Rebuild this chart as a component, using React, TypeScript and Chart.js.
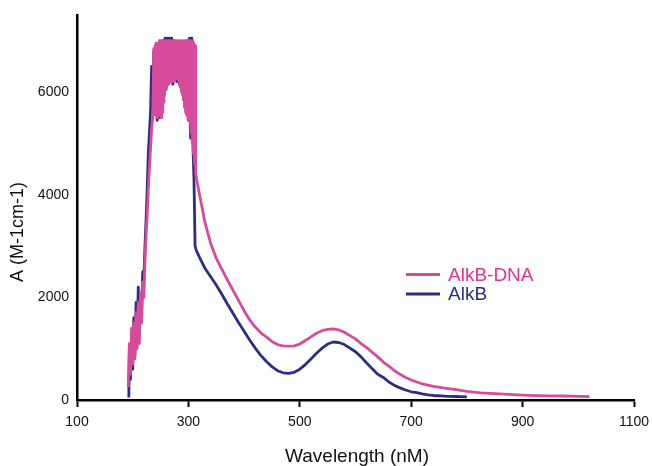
import { useEffect, useRef } from "react";
import { Chart, registerables } from "chart.js";

Chart.register(...registerables);

const seriesLabels = ["AlkB-DNA", "AlkB"];
const xTitle = "Wavelength (nM)";
const yTitle = "A (M-1cm-1)";
const xTicks = [100, 300, 500, 700, 900, 1100];
const yTicks = [0, 2000, 4000, 6000];

const alkbDnaWavelengths = [
  192, 194, 196, 198, 200, 202, 204, 206, 208, 210, 212, 214, 216, 218, 220, 222,
  224, 226, 228, 230, 232, 234, 236,
  238, 239, 240, 241, 242, 243, 244, 245, 246, 247, 248, 249, 250, 251, 252, 253,
  254, 255, 256, 257, 258, 259, 260, 261, 262, 263, 264, 265, 266, 267, 268, 269,
  270, 271, 272, 273, 274, 275, 276, 277, 278, 279, 280, 281, 282, 283, 284, 285,
  286, 287, 288, 289, 290, 291, 292, 293, 294, 295, 296, 297, 298, 299, 300, 301,
  302, 303, 304, 305, 306, 307, 308, 309, 310, 311, 312, 313, 314,
  320, 330, 340, 350, 360, 370, 380, 390, 400, 410, 420, 430, 440, 450, 460, 470,
  480, 490, 500, 510, 520, 530, 540, 550, 560, 570, 580, 590, 600, 610, 620, 630,
  640, 650, 660, 670, 680, 690, 700, 710, 720, 730, 740, 760, 780, 800, 825, 850,
  875, 900, 925, 950, 975, 1000, 1020,
];
const alkbDnaValues = [
  250, 1100, 500, 1400, 700, 1500, 800, 1700, 1000, 1900, 1100, 2100, 1500, 2300, 2000, 2700,
  3200, 3600, 4100, 4500, 4900, 5300, 5500,
  6850, 5600, 6900, 5550, 6950, 5500, 6900, 5500, 6950, 5550, 7000, 5550, 6950, 5500, 7000, 5600,
  6950, 5800, 7000, 5950, 6950, 6050, 7000, 6100, 6950, 6150, 7000, 6200, 6950, 6250, 7000, 6200,
  6950, 6250, 7000, 6300, 6950, 6200, 7000, 6250, 6950, 6300, 7000, 6250, 6950, 6200, 7000, 6100,
  6950, 6050, 7000, 5950, 6950, 5850, 7000, 5700, 6950, 5600, 7000, 5550, 6950, 5500, 7000, 5450,
  6950, 5400, 7000, 5200, 6950, 5000, 7000, 4800, 6950, 4600, 6900, 4400, 4350,
  4000, 3450, 3050, 2760, 2550, 2340, 2140, 1940, 1740, 1560, 1420, 1310, 1230, 1140, 1080, 1055,
  1050, 1055, 1090, 1160, 1230, 1300, 1350, 1375, 1385, 1365, 1320, 1255, 1190, 1100, 1020, 930,
  840, 740, 660, 570, 500, 440, 390, 350, 315, 290, 265, 230, 200, 170, 140, 125,
  110, 95, 85, 80, 78, 70, 65,
];

const alkbWavelengths = [
  193, 194, 196, 198, 200, 202, 204, 206, 208, 210, 212, 214, 216, 218, 220, 222,
  224, 226, 228, 230, 232, 234, 236, 238, 240, 242, 244, 246, 248, 250, 252, 254,
  256, 258, 260, 262, 264, 266, 268, 270, 272, 274, 276, 278, 280, 282, 284, 286,
  288, 290, 292, 294, 296, 298, 300, 302, 304, 306, 308, 310, 312, 314,
  320, 330, 340, 350, 360, 370, 380, 390, 400, 410, 420, 430, 440, 450, 460, 470,
  480, 490, 500, 510, 520, 530, 540, 550, 560, 570, 580, 590, 600, 610, 620, 630,
  640, 650, 660, 670, 680, 690, 700, 710, 720, 730, 740, 760, 780, 800,
];
const alkbValues = [
  50, 900, 400, 1300, 600, 1600, 900, 1900, 1200, 2200, 1300, 2000, 1700, 2500, 2300, 3000,
  3500, 4100, 4800, 5200, 5600, 6500, 5900, 6800, 5800, 6900, 5450, 6900, 5500, 6900, 5650, 7000,
  5900, 7050, 6050, 7050, 6150, 7050, 6200, 7050, 6150, 7000, 6250, 6900, 6200, 6900, 6150, 6900,
  6000, 6900, 5850, 6950, 5650, 7000, 5450, 7050, 5100, 7050, 5000, 4300, 3000, 2920,
  2780, 2560, 2400, 2240, 2060, 1870, 1690, 1510, 1340, 1170, 1010, 870, 750, 650, 570, 530,
  520, 540, 600, 690, 800, 910, 1010, 1090, 1130, 1120, 1080, 1010, 940, 840, 720, 610,
  500, 440, 350, 285, 235, 195, 160, 145, 120, 100, 88, 75, 68, 62,
];

const FONT = '"Liberation Sans", Arial, Helvetica, sans-serif';
const PINK = "#d64c9a";
const PINK_TEXT = "#e2318d";
const NAVY = "#2e2d86";

const overlayPlugin = {
  id: "overlay",
  afterDraw(chart: any) {
    const ctx = chart.ctx;
    ctx.save();
    const textColors = [PINK_TEXT, NAVY];
    chart.data.datasets.forEach((ds: any, i: number) => {
      const y = 274.5 + i * 19.5;
      ctx.strokeStyle = ds.borderColor;
      ctx.lineWidth = 3;
      ctx.beginPath();
      ctx.moveTo(406, y);
      ctx.lineTo(440, y);
      ctx.stroke();
      ctx.fillStyle = textColors[i];
      ctx.font = `19px ${FONT}`;
      ctx.textAlign = "left";
      ctx.textBaseline = "middle";
      ctx.fillText(ds.label, 448, y + 1);
    });
    ctx.fillStyle = "#111";
    ctx.font = `19px ${FONT}`;
    ctx.textAlign = "center";
    ctx.textBaseline = "alphabetic";
    ctx.fillText(xTitle, 357, 462);
    ctx.font = `18px ${FONT}`;
    ctx.translate(18, 232);
    ctx.rotate(-Math.PI / 2);
    ctx.textBaseline = "middle";
    ctx.fillText(yTitle, 0, 0);
    ctx.restore();
  },
};

export default function App() {
  const ref = useRef<HTMLCanvasElement | null>(null);
  useEffect(() => {
    if (!ref.current) return;
    const chart = new Chart(ref.current, {
      type: "line",
      data: {
        datasets: [
          {
            label: seriesLabels[0],
            data: alkbDnaWavelengths.map((x, i) => ({ x, y: alkbDnaValues[i] })),
            borderColor: PINK,
            backgroundColor: PINK,
            borderWidth: 2.8,
            borderJoinStyle: "round",
            pointRadius: 0,
            tension: 0,
          },
          {
            label: seriesLabels[1],
            data: alkbWavelengths.map((x, i) => ({ x, y: alkbValues[i] })),
            borderColor: NAVY,
            backgroundColor: NAVY,
            borderWidth: 2.8,
            borderJoinStyle: "round",
            pointRadius: 0,
            tension: 0,
          },
        ],
      },
      options: {
        responsive: false,
        animation: false,
        devicePixelRatio: 1,
        layout: { padding: { top: 15, right: 18, left: 0, bottom: 0 } },
        plugins: {
          legend: { display: false },
          tooltip: { enabled: false },
        },
        scales: {
          x: {
            type: "linear",
            min: 100,
            max: 1100,
            afterBuildTicks: (scale: any) => {
              scale.ticks = xTicks.map((v) => ({ value: v }));
            },
            afterFit: (scale: any) => {
              scale.height = 66;
              scale.paddingRight = 0;
              scale.paddingLeft = 0;
            },
            grid: {
              display: true,
              drawOnChartArea: false,
              drawTicks: true,
              tickLength: 7,
              tickWidth: 2,
              tickColor: "#000",
              color: "#000",
            },
            border: { display: true, color: "#000", width: 2.5 },
            ticks: {
              color: "#111",
              font: { family: FONT, size: 14 },
              padding: 7,
              maxRotation: 0,
              autoSkip: false,
              callback: (v: any) => String(v),
            },
          },
          y: {
            type: "linear",
            min: 0,
            max: 7500,
            afterBuildTicks: (scale: any) => {
              scale.ticks = yTicks.map((v) => ({ value: v }));
            },
            afterFit: (scale: any) => {
              scale.width = 77;
              scale.paddingTop = 0;
              scale.paddingBottom = 0;
            },
            grid: { display: false },
            border: { display: true, color: "#000", width: 2.5 },
            ticks: {
              color: "#111",
              font: { family: FONT, size: 14 },
              padding: 0,
              autoSkip: false,
              callback: (v: any) => String(v),
            },
          },
        },
      },
      plugins: [overlayPlugin],
    });
    return () => chart.destroy();
  }, []);
  return (
    <div style={{ position: "fixed", left: 0, top: 0, width: 652, height: 466, background: "#fff" }}>
      <canvas ref={ref} width={652} height={466} style={{ width: 652, height: 466 }} />
    </div>
  );
}
